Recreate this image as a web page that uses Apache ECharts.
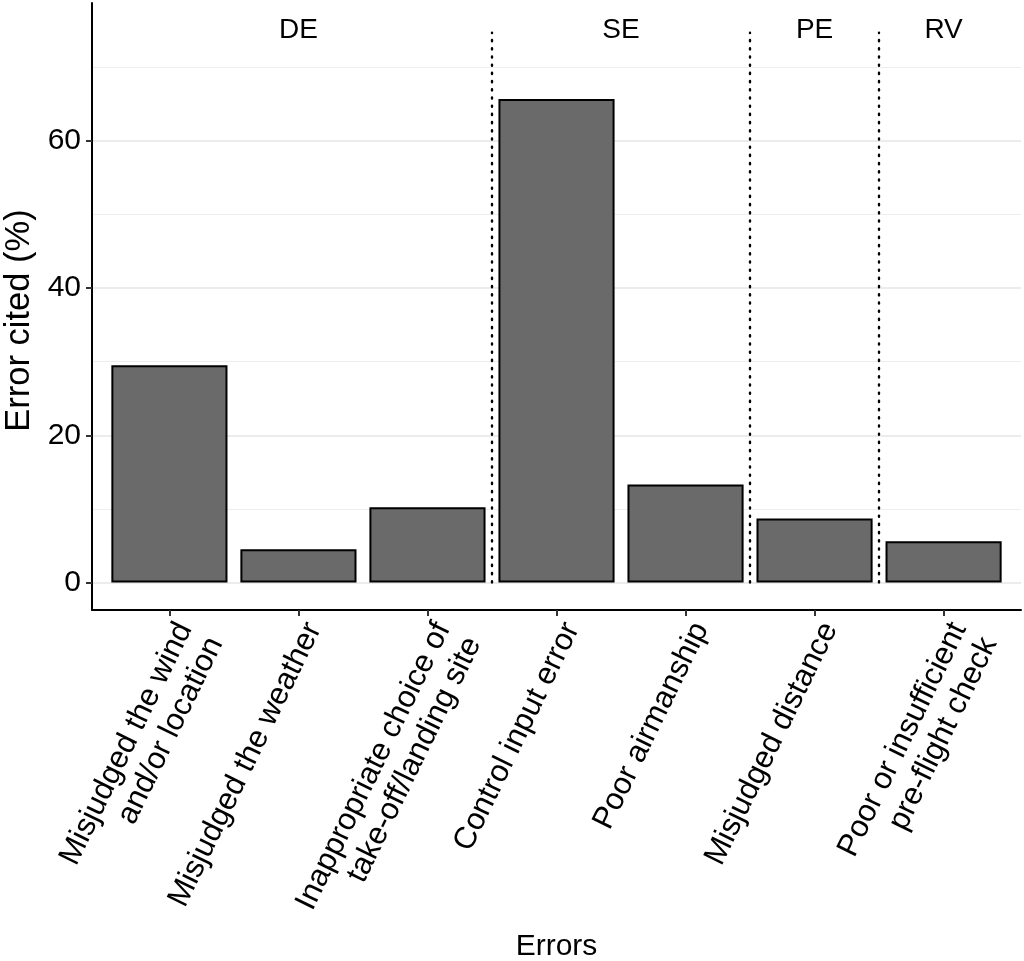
<!DOCTYPE html>
<html>
<head>
<meta charset="utf-8">
<script src="https://cdn.jsdelivr.net/npm/echarts@6/dist/echarts.min.js"></script>
<style>
html,body{margin:0;padding:0;background:#fff;}
#chart{width:1024px;height:961px;}
</style>
</head>
<body>
<div id="chart"></div>
<script>
// ---- data ----
const categories = [
  'Misjudged the wind\nand/or location',
  'Misjudged the weather',
  'Inappropriate choice of\ntake-off/landing site',
  'Control input error',
  'Poor airmanship',
  'Misjudged distance',
  'Poor or insufficient\npre-flight check'
];
const values = [29.5, 4.5, 10.2, 65.7, 13.3, 8.7, 5.6];
const groupLabels = ['DE', 'SE', 'PE', 'RV'];
const groupCenters = [2, 4.5, 6, 7];
const groupLabelY = 75;
const separators = [3.5, 5.5, 6.5];
const separatorTop = 74.7;
const yTicks = [0, 20, 40, 60];
const gridValues = [0, 10, 20, 30, 40, 50, 60, 70];

// ---- build ----
const positions = categories.map((c, i) => i + 1);
const barData = values.map((v, i) => [positions[i], v]);
const font = "'Liberation Sans', Arial, Helvetica, sans-serif";

const chart = echarts.init(document.getElementById('chart'), null, {renderer: 'canvas'});
chart.setOption({
  animation: false,
  backgroundColor: '#ffffff',
  textStyle: {fontFamily: font, color: '#000'},
  grid: {left: 92, right: 3, top: 3, bottom: 351, containLabel: false, outerBoundsMode: 'none'},
  xAxis: {
    type: 'value', min: 0.4, max: 7.6,
    axisLine: {show: true, onZero: false, lineStyle: {color: '#000', width: 2}},
    axisTick: {show: true, customValues: positions, length: 6, lineStyle: {color: '#333', width: 2}},
    axisLabel: {
      customValues: positions,
      formatter: v => categories[Math.round(v) - 1],
      rotate: 64, fontSize: 31, color: '#000', fontFamily: font,
      verticalAlign: 'top', align: 'right', margin: 7, lineHeight: 34
    },
    splitLine: {show: false},
    name: 'Errors', nameLocation: 'middle', nameGap: 322, nameMoveOverlap: false,
    nameTextStyle: {fontSize: 30, color: '#000', fontFamily: font}
  },
  yAxis: {
    type: 'value', min: -3.75, max: 78.75,
    axisLine: {show: true, onZero: false, lineStyle: {color: '#000', width: 2}},
    axisTick: {show: true, customValues: yTicks, length: 6, lineStyle: {color: '#333', width: 2}},
    axisLabel: {customValues: yTicks, fontSize: 30, color: '#000', margin: 11, fontFamily: font},
    splitLine: {show: false},
    name: 'Error cited (%)', nameLocation: 'middle', nameGap: 55, nameRotate: 90, nameMoveOverlap: false,
    nameTextStyle: {fontSize: 34.5, color: '#000', fontFamily: font, padding: [0, 28, 0, 0]}
  },
  series: [
    {
      type: 'line', data: [], z: 0, silent: true,
      markLine: {
        z: 0, silent: true, symbol: ['none', 'none'], label: {show: false}, animation: false,
        data: gridValues.map(v => ({
          yAxis: v,
          lineStyle: yTicks.includes(v)
            ? {color: '#e6e6e6', width: 1.6, type: 'solid'}
            : {color: '#eeeeee', width: 1.2, type: 'solid'}
        }))
      }
    },
    {
      type: 'bar', data: barData, barWidth: '90%', z: 3,
      itemStyle: {color: '#6a6a6a', borderColor: '#000', borderWidth: 2}
    },
    {
      type: 'line', data: [], z: 4, silent: true,
      markLine: {
        z: 4, silent: true, symbol: ['none', 'none'], label: {show: false}, animation: false,
        lineStyle: {color: '#000', width: 2.4, type: [1.2, 7], cap: 'round'},
        data: separators.map(x => [{coord: [x, 0]}, {coord: [x, separatorTop]}])
      },
      markPoint: {
        z: 5, silent: true, symbol: 'circle', symbolSize: 0, animation: false,
        itemStyle: {color: '#000', opacity: 1},
        label: {
          show: true, position: 'inside', formatter: p => p.name,
          fontSize: 28, color: '#000000', opacity: 1, textBorderWidth: 0, fontFamily: font
        },
        data: groupLabels.map((g, i) => ({name: g, coord: [groupCenters[i], groupLabelY]}))
      }
    }
  ]
});
</script>
</body>
</html>
